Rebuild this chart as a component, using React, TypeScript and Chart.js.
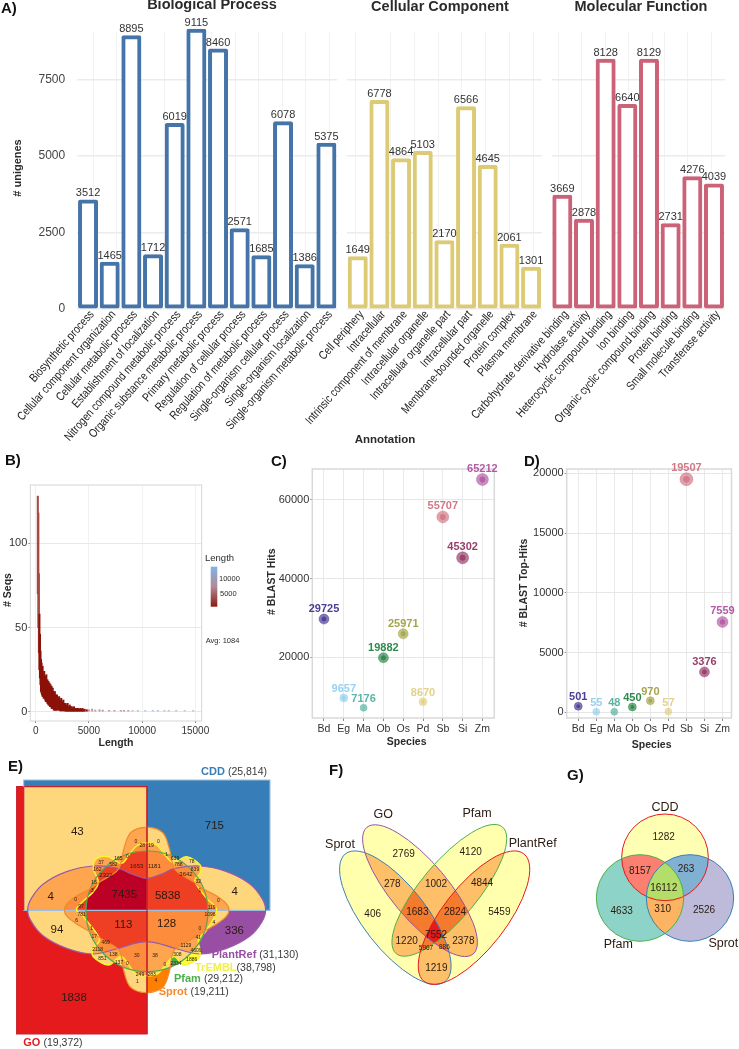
import React, { useEffect, useRef } from "react";
import { Chart, registerables } from "chart.js";
Chart.register(...registerables);

// ---------- Panel A data ----------
const bpLabels = ["Biosynthetic process","Cellular component organization","Cellular metabolic process","Establishment of localization","Nitrogen compound metabolic process","Organic substance metabolic process","Primary metabolic process","Regulation of cellular process","Regulation of metabolic process","Single-organism cellular process","Single-organism localization","Single-organism metabolic process"];
const bpValues = [3512,1465,8895,1712,6019,9115,8460,2571,1685,6078,1386,5375];
const ccLabels = ["Cell periphery","Intracellular","Intrinsic component of membrane","Intracellular organelle","Intracellular organelle part","Intracellular part","Membrane-bounded organelle","Protein complex","Plasma membrane"];
const ccValues = [1649,6778,4864,5103,2170,6566,4645,2061,1301];
const mfLabels = ["Carbohydrate derivative binding","Hydrolase activity","Heterocyclic compound binding","Ion binding","Organic cyclic compound binding","Protein binding","Small molecule binding","Transferase activity"];
const mfValues = [3669,2878,8128,6640,8129,2731,4276,4039];
const unigeneTicks = [0,2500,5000,7500];

// ---------- Panel B data ----------
const histLengths = [200,250,300,350,400,450,500,550,600,650,700,750,800,850,900,950,1000,1050,1100,1150,1200,1250,1300,1350,1400,1450,1500,1550,1600,1650,1700,1750,1800,1850,1900,1950,2000,2100,2200,2300,2400,2500,2600,2700,2800,2900,3000,3100,3200,3300,3400,3500,3600,3700,3800,3900,4000,4100,4200,4300,4400,4500,4600,4800,5000,5300,5600,6000,6300,6900,7400,8000,8300,8700,9100,9600,10300,11000,11500,12100,12500,13200,14000,14800];
const histHigh = [128,118,82,58,46,36,31,29,24,27,22,20,24,19,21,20,22,17,19,16,18,15,17,14,16,13,15,12,14,11,12,10,12,9,10,8,10,8,9,7,8,6,7,5,5,4,5,3,4,3,3,2,3,2,2,2,2,1.5,2,1.5,2,1.2,1.5,1.2,1.2,1.6,1,1.2,1,0.8,0.8,0.8,0.8,0.8,0.8,0.8,0.8,0.8,0.8,0.8,0.8,0.8,0.8,0.8];
const histLow = [70,50,35,25,20,16,12,11,10,9,10,8,8,8,7,6,6,6,5,5,4,4,4,3,3,3,2,2,2,2,1,1,1,1,1,1,1,1,1,0.5,0.5,0.5,0.5,0.5,0,0,0,0,0,0,0,0,0,0,0,0,0,0,0,0,0,0,0,0,0,0,0,0,0,0,0,0,0,0,0,0,0,0,0,0,0,0,0,0];
const seqYTicks = [0,50,100];
const seqXTicks = [0,5000,10000,15000];

// ---------- Panels C, D data ----------
const species = ["Bd","Eg","Ma","Ob","Os","Pd","Sb","Si","Zm"];
const blastHits = [29725,9657,7176,19882,25971,8670,55707,45302,65212];
const blastTopHits = [501,55,48,450,970,57,19507,3376,7559];
const hitsTicks = [20000,40000,60000];
const topHitsTicks = [0,5000,10000,15000,20000];
const speciesColors = ["#332288","#88CCEE","#44AA99","#117733","#999933","#DDCC77","#CC6677","#882255","#AA4499"];
const hitsRadius = [5,4,3.5,5,5,4,6,6,6];
const topHitsRadius = [4,3.5,3.5,4,4,3.5,6.5,5,5.5];

// ---------- Panel E data (six-set Venn); coordinates are zoom units of the panel ----------
const eCounts = ["43","715","4","4","94","336","1838","7435","5838","113","128"];
const eCountPos: number[][] = [[232,335],[643,318],[152,530],[704,515],[171,628],[703,632],[222,832],[373,524],[503,526],[370,615],[500,612]];
const eSmallCounts = ["0","28","19","0","1","165","0","37","582","639","78","788","839","162","16","32","3","1","0","0","97","119","781","1096","6","4","1","0","17","41","469","1129","2118","4609","851","138","308","1886","137","0","30","38","0","2334","249","283","1653","1181","3642","2322"];
const eSmallPos: number[][] = [[258,95],[277,107],[303,107],[325,95],[350,135],[205,145],[232,140],[153,158],[190,163],[375,145],[425,155],[385,165],[435,178],[142,178],[132,218],[445,215],[127,242],[450,242],[77,270],[505,273],[93,290],[485,292],[95,313],[480,315],[80,332],[492,338],[125,355],[450,355],[133,380],[445,382],[167,397],[408,408],[143,420],[438,423],[157,445],[190,435],[382,435],[425,450],[207,457],[232,462],[260,437],[315,437],[345,465],[378,460],[270,495],[305,495],[260,170],[313,170],[408,193],[168,197]];
const eTinyBelow = ["1","4"];
const eTinyBelowPos: number[][] = [[412,785],[468,783]];
const sprotOutline: number[][] = [[0,-248],[48,-232],[68,-185],[85,-122],[140,-85],[172,-62],[210,-42],[238,-20],[247,0],[238,20],[210,42],[165,68],[130,90],[82,122],[68,185],[48,232],[0,248],[-48,232],[-68,185],[-82,122],[-130,90],[-165,68],[-210,42],[-238,20],[-247,0],[-238,-20],[-210,-42],[-172,-62],[-140,-85],[-85,-122],[-68,-185],[-48,-232]];
const plantOutline: number[][] = [[0,-95],[-45,-108],[-85,-125],[-160,-132],[-240,-115],[-310,-78],[-346,-35],[-357,0],[-346,35],[-310,78],[-240,115],[-160,132],[-75,112],[-35,100],[0,95],[35,100],[75,112],[160,132],[240,115],[310,78],[346,35],[357,0],[346,-35],[310,-78],[240,-115],[160,-132],[85,-125],[45,-108]];
const tremblOutline: number[][] = [[290,98],[322,106],[345,135],[370,158],[410,140],[450,165],[450,190],[435,215],[470,265],[500,300],[470,360],[445,390],[450,420],[445,445],[400,465],[370,440],[325,490],[290,497],[255,490],[215,440],[175,465],[130,440],[130,415],[148,385],[100,320],[80,295],[130,245],[145,215],[130,175],[140,145],[175,140],[215,160],[240,130],[262,106]];

// ---------- Panel F, G data ----------
const fCounts = ["2769","4120","406","278","1002","4844","5459","1683","2824","7552","1220","2378","1219","5967","886"];
const fPos: number[][] = [[311,342],[512,336],[218,522],[277,434],[408,432],[546,430],[598,518],[352,516],[465,518],[408,587],[320,604],[490,603],[409,684],[378,625],[433,623]];
const fNames = ["GO","Pfam","Sprot","PlantRef"];
const fNamePos: number[][] = [[250,224],[531,220],[120,313],[698,311]];
const gCounts = ["1282","8157","263","16112","4633","310","2526"];
const gPos: number[][] = [[1091,293],[1020,393],[1158,387],[1091,445],[965,513],[1088,508],[1212,510]];
const gNames = ["CDD","Pfam","Sprot"];
const gNamePos: number[][] = [[1095,202],[955,613],[1270,612]];

// ---------- helpers ----------
const W = 739, H = 1049;
const SANS = '"Liberation Sans", Arial, sans-serif';
const INK = "#2b2b2b";
const plain = (v: number) => String(v);

type Run = { t: string; font: string; color: string };
type Txt = { runs?: Run[]; t?: string; x: number; y: number; font?: string; color?: string; rot?: number; align?: CanvasTextAlign };

const textPlugin = (texts: Txt[]) => ({
  id: "texts",
  afterDraw(chart: any) {
    const c = chart.ctx;
    c.save();
    c.textBaseline = "middle";
    for (const o of texts) {
      if (o.runs) {
        let x = o.x;
        c.textAlign = "left";
        for (const r of o.runs) {
          c.font = r.font; c.fillStyle = r.color;
          c.fillText(r.t, x, o.y);
          x += c.measureText(r.t).width;
        }
        continue;
      }
      c.save();
      c.translate(o.x, o.y);
      if (o.rot) c.rotate(o.rot);
      c.font = o.font!; c.fillStyle = o.color || INK; c.textAlign = o.align || "center";
      c.fillText(o.t!, 0, 0);
      c.restore();
    }
    c.restore();
  },
});

const fit = (w: number | null, h: number | null) => (s: any) => {
  if (w !== null) s.width = w;
  if (h !== null) s.height = h;
  s.paddingLeft = s.paddingRight = s.paddingTop = s.paddingBottom = 0;
};
const setTicks = (list: number[]) => (s: any) => { s.ticks = list.map((value) => ({ value })); };
const area = (l: number, t: number, r: number, b: number, yw: number, xh: number) => ({ left: l - yw, top: t, right: W - r, bottom: H - b - xh });

const framePlugin = (color: string, width: number) => ({
  id: "frame",
  afterDatasetsDraw(chart: any) {
    const { left, top, right, bottom } = chart.chartArea;
    const c = chart.ctx;
    c.save(); c.strokeStyle = color; c.lineWidth = width;
    c.strokeRect(left, top, right - left, bottom - top);
    c.restore();
  },
});

const base = { responsive: false, animation: false as const, plugins: { legend: { display: false }, tooltip: { enabled: false }, title: { display: false } } };

function barFacet(labels: string[], values: number[], color: string, l: number, r: number, showY: boolean, gridXs: number[], texts: Txt[]) {
  const barLabels = {
    id: "barLabels",
    afterDatasetsDraw(chart: any) {
      const c = chart.ctx; c.save();
      c.font = `11px ${SANS}`; c.fillStyle = "#333"; c.textAlign = "center"; c.textBaseline = "bottom";
      chart.getDatasetMeta(0).data.forEach((el: any, i: number) => c.fillText(String(values[i]), el.x, el.y - 2.5));
      c.restore();
    },
  };
  // condensed, rotated category names anchored on the category scale's ticks
  const narrowTicks = {
    id: "narrowTicks",
    afterDraw(chart: any) {
      const c = chart.ctx, sx = chart.scales.x;
      const yEnd = chart.chartArea.bottom + 3;
      labels.forEach((name, i) => {
        c.save();
        c.translate(sx.getPixelForTick(i) + 4, yEnd);
        c.rotate((-48.6 * Math.PI) / 180);
        c.scale(0.825, 1);
        c.font = `12px ${SANS}`; c.fillStyle = "#222"; c.textAlign = "right"; c.textBaseline = "middle";
        c.fillText(name, 0, 0);
        c.restore();
      });
    },
  };
  return {
    type: "bar",
    data: { labels, datasets: [{ data: values, backgroundColor: "#ffffff", borderColor: color, borderWidth: 4, borderSkipped: false, inflateAmount: 2, borderRadius: 2, barThickness: 16, base: 66, clip: false }] },
    options: {
      ...base,
      layout: { padding: area(l, 32, r, 309.5, showY ? 60 : 0, 20) },
      scales: {
        x: { afterFit: fit(null, 20), grid: { display: false, drawTicks: false }, border: { display: false }, ticks: { display: false, autoSkip: false } },
        xg: { type: "linear", position: "bottom", offset: false, min: l, max: r, afterFit: fit(null, 0), afterBuildTicks: setTicks(gridXs), border: { display: false }, grid: { offset: false, color: "#f2f2f2", drawTicks: false }, ticks: { display: false } },
        y: { min: -33, max: 9071, afterFit: fit(showY ? 60 : 0, null), afterBuildTicks: setTicks(unigeneTicks), border: { display: false }, grid: { color: "#ebebeb", lineWidth: 1.4, drawTicks: false },
          ticks: { display: showY, padding: 12, color: "#444", font: { family: SANS, size: 12 }, callback: plain } },
      },
    },
    plugins: [barLabels, narrowTicks, textPlugin(texts)],
  };
}

function speciesScatter(values: number[], radii: number[], l: number, t: number, r: number, b: number, xMin: number, xMax: number, yMin: number, yMax: number, yTicks: number[], texts: Txt[]) {
  const pts = values.map((y, i) => ({ x: i + 1, y }));
  const labels = {
    id: "ptLabels",
    afterDatasetsDraw(chart: any) {
      const c = chart.ctx; c.save();
      c.font = `bold 11px ${SANS}`; c.textAlign = "center"; c.textBaseline = "middle";
      chart.getDatasetMeta(0).data.forEach((el: any, i: number) => { c.fillStyle = speciesColors[i] + "E0"; c.fillText(String(values[i]), el.x, el.y - radii[i] - 5); });
      c.restore();
    },
  };
  return {
    type: "scatter",
    data: { datasets: [
      { data: pts, pointRadius: radii, pointBackgroundColor: speciesColors.map((s) => s + "99"), pointBorderColor: speciesColors.map((s) => s + "55"), pointBorderWidth: 1, clip: false },
      { data: pts, pointRadius: radii.map((v) => v * 0.5), pointBackgroundColor: speciesColors.map((s, i) => (radii[i] > 3.6 ? s + "99" : s + "22")), pointBorderWidth: 0, clip: false },
    ] },
    options: {
      ...base,
      layout: { padding: area(l, t, r, b, 60, 30) },
      scales: {
        x: { type: "linear", min: xMin, max: xMax, afterFit: fit(null, 30), afterBuildTicks: setTicks(species.map((_, i) => i + 1)), border: { display: false }, grid: { color: "#e9e9e9", tickColor: "#888", tickLength: 3 },
          ticks: { padding: 2, maxRotation: 0, minRotation: 0, autoSkip: false, color: "#333", font: { family: SANS, size: 10.5 }, callback: (v: number) => species[v - 1] ?? "" } },
        y: { min: yMin, max: yMax, afterFit: fit(60, null), afterBuildTicks: setTicks(yTicks), border: { display: false }, grid: { color: "#e6e6e6", tickColor: "#888", tickLength: 2 },
          ticks: { padding: 1, color: "#333", font: { family: SANS, size: 11 }, callback: plain } },
      },
    },
    plugins: [framePlugin("#d9d9d9", 1.5), labels, textPlugin(texts)],
  };
}

// ---------- Venn geometry ----------
type Shape = { kind: "rect"; x0: number; y0: number; x1: number; y1: number } | { kind: "ellipse"; cx: number; cy: number; a: number; b: number; deg: number } | { kind: "spline"; pts: number[][] };

function trace(c: CanvasRenderingContext2D, s: Shape, sx: any, sy: any) {
  const k = Math.abs(sx.getPixelForValue(1) - sx.getPixelForValue(0));
  c.beginPath();
  if (s.kind === "rect") {
    c.rect(sx.getPixelForValue(s.x0), sy.getPixelForValue(s.y0), (s.x1 - s.x0) * k, (s.y1 - s.y0) * k);
  } else if (s.kind === "ellipse") {
    c.ellipse(sx.getPixelForValue(s.cx), sy.getPixelForValue(s.cy), s.a * k, s.b * k, (s.deg * Math.PI) / 180, 0, Math.PI * 2);
  } else {
    const p = s.pts.map(([x, y]) => [sx.getPixelForValue(x), sy.getPixelForValue(y)]);
    const n = p.length;
    c.moveTo(p[0][0], p[0][1]);
    for (let i = 0; i < n; i++) {
      const a = p[(i - 1 + n) % n], b = p[i], d = p[(i + 1) % n], e = p[(i + 2) % n];
      c.bezierCurveTo(b[0] + (d[0] - a[0]) / 6, b[1] + (d[1] - a[1]) / 6, d[0] - (e[0] - b[0]) / 6, d[1] - (e[1] - b[1]) / 6, d[0], d[1]);
    }
    c.closePath();
  }
}

function paintSets(chart: any, shapes: Shape[], strokes: { color: string; width: number }[], fillFor: (mask: number, count: number) => string) {
  const c = chart.ctx, sx = chart.scales.x, sy = chart.scales.y;
  const masks: number[] = [];
  for (let m = 1; m < 1 << shapes.length; m++) masks.push(m);
  const pop = (m: number) => m.toString(2).replace(/0/g, "").length;
  masks.sort((a, b) => pop(a) - pop(b));
  for (const m of masks) {
    c.save();
    shapes.forEach((s, i) => { if (m & (1 << i)) { trace(c, s, sx, sy); c.clip(); } });
    c.fillStyle = fillFor(m, pop(m));
    c.fillRect(0, 0, W, H);
    c.restore();
  }
  shapes.forEach((s, i) => {
    trace(c, s, sx, sy);
    c.strokeStyle = strokes[i].color; c.lineWidth = strokes[i].width; c.stroke();
  });
}

function vennChart(opts: { xMin: number; xMax: number; yMin: number; yMax: number; positions: number[][]; labels: string[]; fonts: string[]; draw: (chart: any) => void; texts: Txt[] }) {
  const layer = {
    id: "venn",
    beforeDatasetsDraw(chart: any) { opts.draw(chart); },
    afterDatasetsDraw(chart: any) {
      const c = chart.ctx; c.save();
      c.textAlign = "center"; c.textBaseline = "middle"; c.fillStyle = "#2a1a10";
      chart.getDatasetMeta(0).data.forEach((el: any, i: number) => { c.font = opts.fonts[i]; c.fillText(opts.labels[i], el.x, el.y); });
      c.restore();
    },
  };
  return {
    type: "scatter",
    data: { datasets: [{ data: opts.positions.map(([x, y]) => ({ x, y })), pointRadius: 0, clip: false }] },
    options: {
      ...base,
      scales: {
        x: { type: "linear", display: false, min: opts.xMin, max: opts.xMax },
        y: { type: "linear", display: false, min: opts.yMin, max: opts.yMax, reverse: true },
      },
    },
    plugins: [layer, textPlugin(opts.texts)],
  };
}

const CX = 440, CY = 570;
const fromCentre = (pts: number[][]) => pts.map(([x, y]) => [x + CX, y + CY]);
const fromDetail = (pts: number[][]) => pts.map(([x, y]) => [x + 150, y + 270]);

const eShapes: Shape[] = [
  { kind: "rect", x0: 50, y0: 200, x1: 441, y1: 942 },
  { kind: "rect", x0: 71, y0: 180, x1: 810, y1: 571 },
  { kind: "spline", pts: fromCentre(plantOutline) },
  { kind: "spline", pts: fromDetail(tremblOutline) },
  { kind: "ellipse", cx: 441, cy: 574, a: 183, b: 181, deg: 0 },
  { kind: "spline", pts: fromCentre(sprotOutline) },
];
const eStrokes = [{ color: "#C8202C", width: 1.2 }, { color: "#9DBFE0", width: 1.1 }, { color: "#9A5AA8", width: 1.2 }, { color: "#F6F62A", width: 1.5 }, { color: "#52A84F", width: 1.2 }, { color: "#F08A2C", width: 1.2 }];
const eSingle = ["#E41A1C", "#377EB8", "#984EA3", "#FFFF33", "#4DAF4A", "#FF7F00"];
const eLevels = ["", "", "#FED67C", "#FDA54F", "#FD8D3C", "#EE3F24", "#BD0026"];

const fShapes: Shape[] = [
  { kind: "ellipse", cx: 286, cy: 533, a: 243, b: 95, deg: 52 },
  { kind: "ellipse", cx: 360, cy: 452, a: 248, b: 85, deg: 50 },
  { kind: "ellipse", cx: 448, cy: 451, a: 248, b: 85, deg: -50 },
  { kind: "ellipse", cx: 522, cy: 533, a: 243, b: 95, deg: -52 },
];
const fStrokes = [{ color: "#3B7FB5", width: 1 }, { color: "#9A52A0", width: 1 }, { color: "#4DAF4A", width: 1 }, { color: "#E41A1C", width: 1 }];
const fLevels = ["", "#FFFFAE", "#FDC068", "#F47B2E", "#E41A1C"];

const gShapes: Shape[] = [
  { kind: "ellipse", cx: 1095, cy: 352, a: 130, b: 130, deg: 0 },
  { kind: "ellipse", cx: 1020, cy: 474, a: 131, b: 130, deg: 0 },
  { kind: "ellipse", cx: 1170, cy: 474, a: 131, b: 130, deg: 0 },
];
const gStrokes = [{ color: "#E41A1C", width: 1 }, { color: "#4DAF4A", width: 1 }, { color: "#377EB8", width: 1 }];
const gFills: Record<number, string> = { 1: "#FFFFB3", 2: "#8DD3C7", 4: "#BEBADA", 3: "#FB8072", 5: "#80B1D3", 6: "#FDB462", 7: "#B3DE69" };

const bold = (size: number) => `bold ${size}px ${SANS}`;
const reg = (size: number) => `${size}px ${SANS}`;

function buildConfigs(): any[] {
  const a = barFacet(bpLabels, bpValues, "#4474A8", 77.2, 337.2, true, [93,116.7,140,164,187.5,211,235,258.5,282,305.5,329], [
    { t: "A)", x: 1, y: 9, font: bold(15), align: "left", color: "#111" },
    { t: "Biological Process", x: 212, y: 4.5, font: bold(14.5) },
    { t: "# unigenes", x: 17.5, y: 168, font: bold(11), rot: -Math.PI / 2 },
    { t: "Annotation", x: 385, y: 440, font: bold(11.5) },
  ]);
  const b = barFacet(ccLabels, ccValues, "#DCCB74", 346.9, 541.9, false, [355,390.7,414.3,438.3,461.7,485.7,509.3,533.3], [
    { t: "Cellular Component", x: 440, y: 6.5, font: bold(14.5) },
  ]);
  const c = barFacet(mfLabels, mfValues, "#CB6278", 551.5, 724.8, false, [558.3,581.7,605,628.5,652,664,687.3,711.7], [
    { t: "Molecular Function", x: 641, y: 6.5, font: bold(14.5) },
  ]);

  const histLegend = {
    id: "histLegend",
    afterDraw(chart: any) {
      const ctx = chart.ctx;
      const g = ctx.createLinearGradient(0, 566.7, 0, 606.7);
      g.addColorStop(0, "#7FB4EA"); g.addColorStop(0.5, "#B08A96"); g.addColorStop(1, "#8B1A12");
      ctx.save(); ctx.fillStyle = g; ctx.fillRect(210.7, 566.7, 6.6, 40); ctx.restore();
    },
  };
  const hist = {
    type: "bar",
    data: { datasets: [{ data: histLengths.map((x, i) => ({ x, y: [histLow[i], histHigh[i]] })), barThickness: 1.4, clip: false,
      backgroundColor: histLengths.map((x) => (x <= 300 ? "#A84A44" : x < 5000 ? "#8B1209" : x < 9000 ? "#C49A9C" : "#B7C6DC")) }] },
    options: {
      ...base,
      layout: { padding: area(30.3, 485, 201.7, 721, 30, 30) },
      scales: {
        x: { type: "linear", offset: false, min: -507, max: 15600, afterFit: fit(null, 30), afterBuildTicks: setTicks(seqXTicks), border: { display: false }, grid: { offset: false, color: "#f1f1f1", tickColor: "#888", tickLength: 2 },
          ticks: { padding: 2, maxRotation: 0, minRotation: 0, color: "#333", font: { family: SANS, size: 10 }, callback: plain } },
        y: { min: -5.5, max: 134.6, afterFit: fit(30, null), afterBuildTicks: setTicks(seqYTicks), border: { display: false }, grid: { color: "#e8e8e8", tickColor: "#888", tickLength: 2 },
          ticks: { padding: 1, color: "#333", font: { family: SANS, size: 11 }, callback: plain } },
      },
    },
    plugins: [framePlugin("#d6d6d6", 1), histLegend, textPlugin([
      { t: "B)", x: 5, y: 461, font: bold(15), align: "left", color: "#111" },
      { t: "# Seqs", x: 8, y: 590, font: bold(10.5), rot: -Math.PI / 2 },
      { t: "Length", x: 116, y: 742.7, font: bold(10.5) },
      { t: "Length", x: 205, y: 558.7, font: reg(9.5), align: "left" },
      { t: "10000", x: 219, y: 579, font: reg(7.5), align: "left" },
      { t: "5000", x: 220, y: 594, font: reg(7.5), align: "left" },
      { t: "Avg: 1084", x: 205.7, y: 641, font: reg(7.5), align: "left" },
    ])],
  };

  const cc = speciesScatter(blastHits, hitsRadius, 312.3, 469, 494.3, 718, 0.41, 9.6, 4570, 67880, hitsTicks, [
    { t: "C)", x: 271, y: 461.5, font: bold(15), align: "left", color: "#111" },
    { t: "# BLAST Hits", x: 271.7, y: 581.7, font: bold(10.5), rot: -Math.PI / 2 },
    { t: "Species", x: 406.7, y: 742, font: bold(10.5) },
  ]);
  const dd = speciesScatter(blastTopHits, topHitsRadius, 566.7, 469, 737, 718, 0.36, 9.5, -478, 20360, topHitsTicks, [
    { t: "D)", x: 524, y: 461.5, font: bold(15), align: "left", color: "#111" },
    { t: "# BLAST Top-Hits", x: 524, y: 583, font: bold(10.5), rot: -Math.PI / 2 },
    { t: "Species", x: 651.7, y: 745, font: bold(10.5) },
  ]);

  const eLabelsAll = [...eCounts, ...eSmallCounts, ...eTinyBelow];
  const ePos = [...eCountPos, ...fromDetail(eSmallPos), ...eTinyBelowPos];
  const eFonts = [...eCounts.map(() => reg(11.5)), ...eSmallCounts.map((s, i) => (i >= 46 ? reg(6) : reg(5))), ...eTinyBelow.map(() => reg(5))];
  const dark = "#3a3a3a";
  const e = vennChart({
    xMin: 0, xMax: 2217, yMin: -2160, yMax: 987, positions: ePos, labels: eLabelsAll, fonts: eFonts,
    draw: (chart) => {
      paintSets(chart, eShapes, eStrokes, (m, n) => {
        if (n === 1) return eSingle[Math.log2(m)];
        return eLevels[n];
      });
      const ctx = chart.ctx, sx = chart.scales.x, sy = chart.scales.y;
      ctx.save(); ctx.strokeStyle = "#C8202C"; ctx.lineWidth = 1.2; ctx.beginPath();
      ctx.moveTo(sx.getPixelForValue(71), sy.getPixelForValue(571)); ctx.lineTo(sx.getPixelForValue(71), sy.getPixelForValue(200));
      ctx.moveTo(sx.getPixelForValue(441), sy.getPixelForValue(200)); ctx.lineTo(sx.getPixelForValue(441), sy.getPixelForValue(942));
      ctx.stroke(); ctx.restore();
    },
    texts: [
      { t: "E)", x: 8, y: 767, font: bold(15), align: "left", color: "#111" },
      { runs: [{ t: "CDD ", font: bold(11), color: "#377EB8" }, { t: "(25,814)", font: reg(10.5), color: dark }], x: 201, y: 771.7 },
      { runs: [{ t: "PlantRef ", font: bold(11), color: "#984EA3" }, { t: "(31,130)", font: reg(10.5), color: dark }], x: 211.7, y: 955 },
      { runs: [{ t: "TrEMBL", font: bold(11), color: "#F0F04A" }, { t: "(38,798)", font: reg(10.5), color: dark }], x: 195, y: 967.7 },
      { runs: [{ t: "Pfam ", font: bold(11), color: "#4DAF4A" }, { t: "(29,212)", font: reg(10.5), color: dark }], x: 174, y: 979.3 },
      { runs: [{ t: "Sprot ", font: bold(11), color: "#F58A2C" }, { t: "(19,211)", font: reg(10.5), color: dark }], x: 158.7, y: 991.7 },
      { runs: [{ t: "GO ", font: bold(11), color: "#E41A1C" }, { t: "(19,372)", font: reg(10.5), color: dark }], x: 23.3, y: 1043 },
    ],
  });

  const f = vennChart({
    xMin: -900, xMax: 1317, yMin: -2220, yMax: 927,
    positions: [...fPos, ...fNamePos], labels: [...fCounts, ...fNames],
    fonts: [...fCounts.map((_, i) => (i >= 13 ? reg(6.5) : reg(10))), ...fNames.map(() => reg(12.5))],
    draw: (chart) => paintSets(chart, fShapes, fStrokes, (_m, n) => fLevels[n]),
    texts: [{ t: "F)", x: 329, y: 771, font: bold(15), align: "left", color: "#111" }],
  });
  const g = vennChart({
    xMin: -900, xMax: 1317, yMin: -2220, yMax: 927,
    positions: [...gPos, ...gNamePos], labels: [...gCounts, ...gNames],
    fonts: [...gCounts.map(() => reg(10)), ...gNames.map(() => reg(12.5))],
    draw: (chart) => paintSets(chart, gShapes, gStrokes, (m) => gFills[m]),
    texts: [{ t: "G)", x: 567, y: 776, font: bold(15), align: "left", color: "#111" }],
  });
  return [a, b, c, hist, cc, dd, e, f, g];
}

export default function App() {
  const holder = useRef<HTMLDivElement>(null);
  useEffect(() => {
    const charts: Chart[] = [];
    const el = holder.current!;
    for (const cfg of buildConfigs()) {
      const cv = document.createElement("canvas");
      cv.width = W; cv.height = H;
      cv.style.cssText = `position:absolute;left:0;top:0;width:${W}px;height:${H}px;`;
      el.appendChild(cv);
      charts.push(new Chart(cv, cfg));
    }
    return () => { charts.forEach((c) => { const cv = c.canvas; c.destroy(); cv.remove(); }); };
  }, []);
  return <div ref={holder} style={{ position: "absolute", left: 0, top: 0, width: W, height: H, background: "#fff", overflow: "hidden" }} />;
}
